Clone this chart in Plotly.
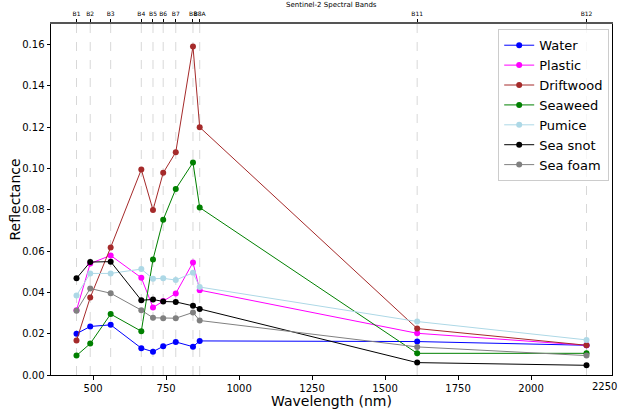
import plotly.graph_objects as go

bands = ["B1", "B2", "B3", "B4", "B5", "B6", "B7", "B8", "B8A", "B11", "B12"]
wavelengths = [443, 490, 560, 665, 705, 740, 783, 842, 865, 1610, 2190]
x_ticks = [500, 750, 1000, 1250, 1500, 1750, 2000, 2250]
y_ticks = [0, 0.02, 0.04, 0.06, 0.08, 0.10, 0.12, 0.14, 0.16]

water = [0.0200, 0.0235, 0.0243, 0.0130, 0.0113, 0.0139, 0.0160, 0.0137, 0.0165, 0.0162, 0.0144]
plastic = [0.0314, 0.0540, 0.0579, 0.0471, 0.0327, 0.0359, 0.0395, 0.0545, 0.0411, 0.0202, 0.0144]
driftwood = [0.0167, 0.0375, 0.0618, 0.0995, 0.0799, 0.0979, 0.1079, 0.1591, 0.1200, 0.0225, 0.0144]
seaweed = [0.0094, 0.0152, 0.0295, 0.0212, 0.0560, 0.0752, 0.0901, 0.1029, 0.0811, 0.0105, 0.0105]
pumice = [0.0385, 0.0492, 0.0492, 0.0513, 0.0466, 0.0468, 0.0460, 0.0495, 0.0426, 0.0259, 0.0170]
sea_snot = [0.0468, 0.0547, 0.0549, 0.0362, 0.0366, 0.0356, 0.0354, 0.0335, 0.0320, 0.0060, 0.0047]
sea_foam = [0.0311, 0.0419, 0.0396, 0.0314, 0.0277, 0.0275, 0.0275, 0.0303, 0.0264, 0.0136, 0.0094]

series = [
    ("Water", water, "blue"),
    ("Plastic", plastic, "magenta"),
    ("Driftwood", driftwood, "brown"),
    ("Seaweed", seaweed, "green"),
    ("Pumice", pumice, "lightblue"),
    ("Sea snot", sea_snot, "black"),
    ("Sea foam", sea_foam, "gray"),
]

x_range = [355.65, 2277.35]
y_range = [0, 0.17]

fig = go.Figure()
for name, vals, color in series:
    fig.add_trace(go.Scatter(
        x=wavelengths, y=vals, name=name, mode="lines+markers",
        line=dict(color=color, width=1),
        marker=dict(color=color, size=6),
    ))

# invisible trace to activate top axis
fig.add_trace(go.Scatter(x=wavelengths, y=[None] * len(wavelengths), xaxis="x2",
                         showlegend=False, hoverinfo="skip"))

shapes = []
for w in wavelengths:
    shapes.append(dict(type="line", xref="x", yref="paper", x0=w, x1=w, y0=0, y1=1,
                       line=dict(color="rgba(200,200,200,0.7)", width=1, dash="dash"),
                       layer="below"))

fig.update_layout(
    width=628, height=412,
    margin=dict(l=51, r=16, t=24, b=37),
    paper_bgcolor="white", plot_bgcolor="white",
    font=dict(family="DejaVu Sans", color="black"),
    shapes=shapes,
    xaxis=dict(range=x_range, tickvals=x_ticks[:-1],
               showgrid=False, zeroline=False, showline=True, linecolor="black", linewidth=1,
               mirror=False, ticks="outside", ticklen=3.5, tickcolor="black",
               tickfont=dict(size=10), automargin=True, ticklabeloverflow="allow"),
    xaxis2=dict(range=x_range, overlaying="x", side="top", tickvals=wavelengths,
                ticktext=bands, showgrid=False, zeroline=False, showline=True,
                linecolor="#555555", linewidth=1.5, ticks="outside", ticklen=3.5,
                tickcolor="black", tickfont=dict(size=6, color="black"), tickangle=0,
                automargin=False, anchor="y", ticklabeloverflow="allow"),
    yaxis=dict(range=y_range, tickvals=y_ticks,
               tickformat=".2f", showgrid=False, zeroline=False, showline=True,
               linecolor="black", linewidth=1, mirror=True, ticks="outside", ticklen=3.5,
               tickcolor="black", tickfont=dict(size=10), automargin=False),
    legend=dict(x=0.995, y=0.985, xanchor="right", yanchor="top",
                bgcolor="rgba(255,255,255,0.8)", bordercolor="#cccccc", borderwidth=1,
                font=dict(size=13), itemwidth=30, tracegroupgap=0),
    annotations=[
        dict(text="Sentinel-2 Spectral Bands", xref="paper", yref="paper",
             x=0.5, y=1, yshift=19, showarrow=False, font=dict(size=7),
             xanchor="center", yanchor="middle"),
        dict(text="Wavelength (nm)", xref="paper", yref="paper",
             x=0.5, y=0, yshift=-26, showarrow=False, font=dict(size=14),
             xanchor="center", yanchor="middle"),
        dict(text="Reflectance", xref="paper", yref="paper", textangle=-90,
             x=0, xshift=-37, y=0.5, showarrow=False, font=dict(size=14),
             xanchor="center", yanchor="middle"),
        # last bottom tick label (plotly hides it near the edge)
        dict(text=str(x_ticks[-1]), xref="x", yref="paper", x=x_ticks[-1], y=0,
             yshift=-4, showarrow=True, ax=0, ay=-0.001, arrowwidth=0.8,
             arrowhead=0, arrowcolor="rgba(0,0,0,0)", font=dict(size=10),
             xanchor="center", yanchor="top"),
    ],
)

fig.write_html("out.html", config={"displayModeBar": False},
               post_script="document.body.style.margin='0';document.body.style.overflow='hidden';")
